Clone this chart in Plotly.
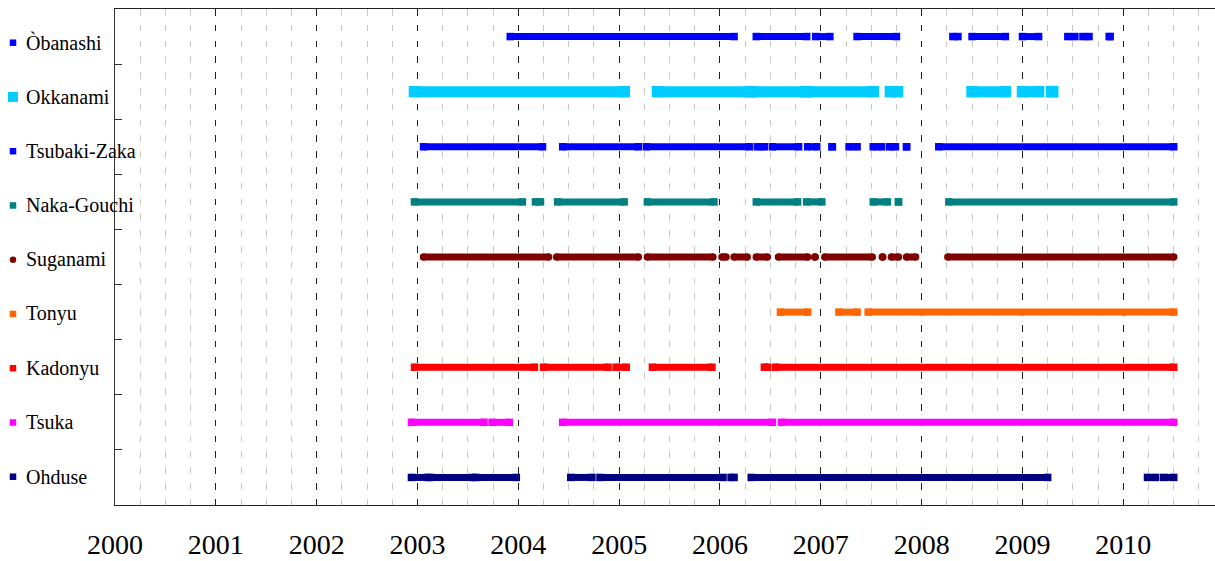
import plotly.graph_objects as go

# Stations, top to bottom
stations = ["Òbanashi", "Okkanami", "Tsubaki-Zaka", "Naka-Gouchi", "Suganami",
            "Tonyu", "Kadonyu", "Tsuka", "Ohduse"]
colors = ["#0000FF", "#00CCFF", "#0000FF", "#008080", "#800000",
          "#FF6600", "#FF0000", "#FF00FF", "#000080"]
symbols = ["square", "square", "square", "square", "circle",
           "square", "square", "square", "square"]

# Periods with records, as [start, end] in decimal years
obanashi = [[2003.92, 2006.14], [2006.36, 2006.86], [2006.95, 2007.09],
            [2007.36, 2007.75], [2008.31, 2008.36], [2008.50, 2008.83],
            [2009.00, 2009.16], [2009.45, 2009.52], [2009.60, 2009.66],
            [2009.86, 2009.87]]
okkanami = [[2002.97, 2005.05], [2005.38, 2006.30], [2006.32, 2006.85],
            [2006.87, 2007.52], [2007.69, 2007.76], [2008.50, 2008.83],
            [2009.00, 2009.16], [2009.29, 2009.30]]
tsubaki_zaka = [[2003.06, 2004.24], [2004.44, 2005.19], [2005.27, 2006.29],
                [2006.37, 2006.44], [2006.52, 2006.78], [2006.87, 2006.96],
                [2007.11, 2007.115], [2007.28, 2007.36], [2007.52, 2007.60],
                [2007.68, 2007.74], [2007.85, 2007.851], [2008.17, 2010.50]]
naka_gouchi = [[2002.97, 2004.04], [2004.17, 2004.22], [2004.39, 2005.05],
               [2005.28, 2005.94], [2006.36, 2006.77], [2006.86, 2007.01],
               [2007.52, 2007.66], [2007.77, 2007.771], [2008.27, 2010.50]]
suganami = [[2003.06, 2004.30], [2004.38, 2005.19], [2005.28, 2005.93],
            [2006.02, 2006.06], [2006.14, 2006.27], [2006.36, 2006.47],
            [2006.58, 2006.87], [2006.94, 2006.945], [2007.04, 2007.51],
            [2007.61, 2007.615], [2007.70, 2007.77], [2007.85, 2007.94],
            [2008.26, 2010.50]]
tonyu = [[2006.60, 2006.87], [2007.18, 2007.36], [2007.47, 2010.50]]
kadonyu = [[2002.97, 2004.16], [2004.25, 2004.89], [2004.97, 2005.07],
           [2005.33, 2005.92], [2006.44, 2006.47], [2006.55, 2010.50]]
tsuka = [[2002.94, 2003.66], [2003.74, 2003.91], [2004.44, 2006.52],
         [2006.61, 2010.50]]
ohduse = [[2002.94, 2003.10], [2003.13, 2003.55], [2003.58, 2003.98],
          [2004.52, 2004.73], [2004.81, 2006.03], [2006.11, 2006.14],
          [2006.31, 2009.25], [2010.24, 2010.32], [2010.40, 2010.50]]

periods = [obanashi, okkanami, tsubaki_zaka, naka_gouchi, suganami,
           tonyu, kadonyu, tsuka, ohduse]

years = list(range(2000, 2011))
year_labels = [str(y) for y in years]

SERIF = "Liberation Serif, Times New Roman, serif"
W, H = 1215, 561
LEFT = 115          # width of the label column
TOP, BOTTOM = 9, 56
ROW_PX = 54.25      # spacing of the label column entries
FIRST_PX = 33.7     # first label entry below the top of the frame

fig = go.Figure()

# Record periods: one thick line per station, square/circle markers at ends
for name, col, sym, segs in zip(stations, colors, symbols, periods):
    width = 11 if name == "Okkanami" else 7
    xs, ys = [], []
    for s, e in segs:
        xs += [s, e, None]
        ys += [name, name, None]
    fig.add_trace(go.Scatter(
        x=xs, y=ys, mode="lines+markers",
        line=dict(color=col, width=width),
        marker=dict(color=col, size=width + 0.5, symbol=sym),
        connectgaps=False, showlegend=False, hoverinfo="skip",
        xaxis="x", yaxis="y"))

# Label column on the left: marker + station name
for i, (name, col, sym) in enumerate(zip(stations, colors, symbols)):
    size = 10 if name == "Okkanami" else 6.5
    fig.add_trace(go.Scatter(
        x=[13], y=[i], mode="markers",
        marker=dict(color=col, size=size, symbol=sym),
        showlegend=False, hoverinfo="skip", xaxis="x2", yaxis="y2"))
    fig.add_annotation(x=24, y=i, xref="x2", yref="y2", text=name,
                       showarrow=False, xanchor="left", yanchor="middle",
                       font=dict(family=SERIF, size=20, color="black"))

plot_h = H - TOP - BOTTOM
span = plot_h / ROW_PX
y2_top = -FIRST_PX / ROW_PX

fig.update_layout(
    width=W, height=H,
    margin=dict(l=0, r=0, t=TOP, b=BOTTOM, pad=0, autoexpand=False),
    paper_bgcolor="white", plot_bgcolor="white",
    font=dict(family=SERIF, color="black"),
    showlegend=False,
    xaxis=dict(
        domain=[LEFT / W, 1],
        range=[2000, 2000 + (W - LEFT) / 100.83],
        tickmode="array", tickvals=years, ticktext=year_labels,
        tickfont=dict(family=SERIF, size=28, color="black"),
        ticks="", ticklabelstandoff=14, automargin=False,
        showline=True, linecolor="#222", linewidth=1, mirror=True,
        showgrid=True, gridcolor="#222", gridwidth=1, griddash="6.5px,9.3px",
        minor=dict(tickmode="linear", tick0=2000, dtick=0.25, showgrid=True,
                   gridcolor="#c8c8c8", gridwidth=1, griddash="6.5px,9.3px"),
        zeroline=False, fixedrange=True),
    yaxis=dict(
        type="category", categoryorder="array",
        categoryarray=stations[::-1],
        range=[-0.5, len(stations) - 0.5],
        tickson="boundaries", ticks="inside", ticklen=7,
        tickcolor="#333", tickwidth=1, automargin=False,
        showticklabels=False, showgrid=False, zeroline=False,
        showline=True, linecolor="#333", linewidth=1, mirror=False,
        fixedrange=True),
    xaxis2=dict(domain=[0, LEFT / W], range=[0, LEFT], visible=False,
                anchor="y2", fixedrange=True, automargin=False),
    yaxis2=dict(domain=[0, 1], range=[y2_top + span, y2_top], visible=False,
                anchor="x2", fixedrange=True, automargin=False),
)

fig.write_html("out.html")
